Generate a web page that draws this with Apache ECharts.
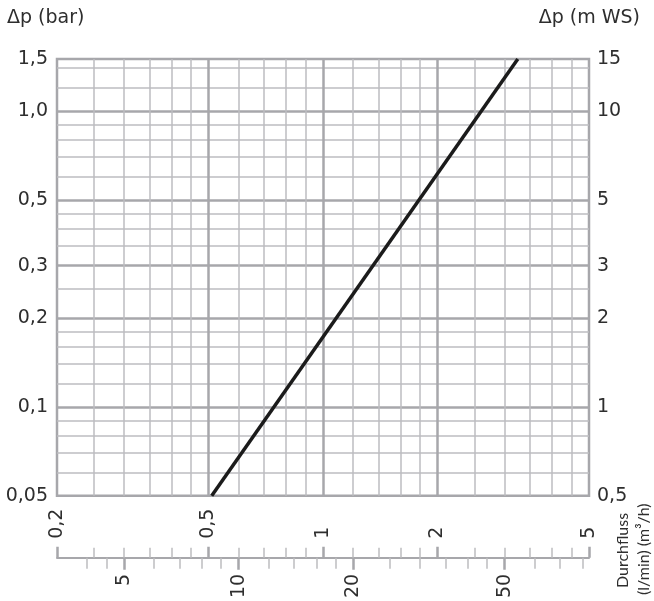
<!DOCTYPE html>
<html>
<head>
<meta charset="utf-8">
<script src="https://cdn.jsdelivr.net/npm/echarts@6/dist/echarts.min.js"></script>
<style>
html, body { margin: 0; padding: 0; background: #fff; }
#chart { width: 654px; height: 601px; }
</style>
</head>
<body>
<div id="chart"></div>
<script>
// curve (m3/h, bar)
var flowM3h = [0.51, 3.25];
var dpBar = [0.05, 1.5];

// left axis (bar) and right axis (m WS)
var barTicks = [0.05, 0.1, 0.2, 0.3, 0.5, 1, 1.5];
var barMinor = [0.06, 0.07, 0.08, 0.09, 0.12, 0.14, 0.16, 0.18, 0.25, 0.35, 0.4, 0.45, 0.6, 0.7, 0.8, 0.9, 1.2, 1.4];
var mwsTicks = [0.5, 1, 2, 3, 5, 10, 15];

// flow axes
var m3hTicks = [0.2, 0.5, 1, 2, 5];
var m3hMinor = [0.25, 0.3, 0.35, 0.4, 0.45, 0.6, 0.7, 0.8, 0.9, 1.2, 1.4, 1.6, 1.8, 2.5, 3, 3.5, 4, 4.5];
var lminTicks = [5, 10, 20, 50];
var lminMinor = [4, 4.5, 6, 7, 8, 9, 12, 14, 16, 18, 25, 30, 35, 40, 45, 60, 70, 80];

var LMIN_PER_M3H = 1000 / 60;
var textColor = '#2e2e2e';
var gridMajor = '#a7a7ab';
var gridMinor = '#bdbdc0';
var font = 'DejaVu Sans';
var fs = 19;

// decimal comma, bar labels keep one decimal for 1,0
function barLabel(v) {
	var r = Math.round(v * 100) / 100;
	if (r === 1) return '1,0';
	return String(r).replace('.', ',');
}
function comma(v) {
	return String(Math.round(v * 100) / 100).replace('.', ',');
}

var chart = echarts.init(document.getElementById('chart'));

// base log axis for the flow, m3/h
function flowAxis(extra) {
	var a = {
		type: 'log', min: 0.2, max: 5, position: 'bottom',
		axisLine: { show: false },
		axisTick: { show: false },
		axisLabel: { show: false },
		splitLine: { show: false }
	};
	for (var k in extra) a[k] = extra[k];
	return a;
}

var option = {
	animation: false,
	textStyle: { fontFamily: font },
	grid: {
		left: 57, right: 65, top: 59, bottom: 100,
		show: true, borderColor: gridMajor, borderWidth: 2.5, backgroundColor: 'transparent'
	},
	xAxis: [
		// minor vertical grid
		flowAxis({
			axisTick: { show: false, customValues: m3hMinor },
			splitLine: { show: true, lineStyle: { color: gridMinor, width: 1.5 } }
		}),
		// major vertical grid + m3/h labels
		flowAxis({
			axisTick: { show: false, customValues: [0.5, 1, 2] },
			splitLine: { show: true, lineStyle: { color: gridMajor, width: 2.5 } },
			axisLabel: {
				show: true, customValues: m3hTicks, rotate: 90, align: 'left', verticalAlign: 'middle',
				margin: 43, fontSize: fs, color: textColor, fontFamily: font,
				formatter: comma
			}
		}),
		// ruler: upper minor ticks (m3/h)
		flowAxis({
			offset: 62,
			axisLine: { show: true, lineStyle: { color: gridMajor, width: 2 } },
			axisTick: { show: true, inside: true, length: 10, customValues: m3hMinor, lineStyle: { color: gridMinor, width: 1.5 } }
		}),
		// ruler: upper major ticks (m3/h)
		flowAxis({
			offset: 62,
			axisTick: { show: true, inside: true, length: 11, customValues: m3hTicks, lineStyle: { color: gridMajor, width: 2.5 } }
		}),
		// ruler: lower minor ticks (l/min)
		{
			type: 'log', min: 0.2 * LMIN_PER_M3H, max: 5 * LMIN_PER_M3H, position: 'bottom', offset: 62,
			axisLine: { show: false },
			axisTick: { show: true, length: 11, customValues: lminMinor, lineStyle: { color: gridMinor, width: 1.5 } },
			axisLabel: { show: false },
			splitLine: { show: false }
		},
		// ruler: lower major ticks + l/min labels
		{
			type: 'log', min: 0.2 * LMIN_PER_M3H, max: 5 * LMIN_PER_M3H, position: 'bottom', offset: 62,
			axisLine: { show: false },
			axisTick: { show: true, length: 12, customValues: lminTicks, lineStyle: { color: gridMajor, width: 2.5 } },
			axisLabel: {
				show: true, customValues: lminTicks, rotate: 90, verticalAlign: 'middle',
				margin: 16, fontSize: fs, color: textColor, fontFamily: font
			},
			splitLine: { show: false }
		}
	],
	yAxis: [
		// minor horizontal grid
		{
			type: 'log', min: 0.05, max: 1.5, position: 'left',
			axisLine: { show: false }, axisTick: { show: false, customValues: barMinor },
			axisLabel: { show: false },
			splitLine: { show: true, lineStyle: { color: gridMinor, width: 1.5 } }
		},
		// major horizontal grid + bar labels
		{
			type: 'log', min: 0.05, max: 1.5, position: 'left',
			name: 'Δp (bar)', nameLocation: 'end', nameGap: 31,
			nameTextStyle: { fontSize: fs, color: textColor, fontFamily: font, align: 'left', padding: [0, 0, 0, -50] },
			axisLine: { show: false },
			axisTick: { show: false, customValues: [0.1, 0.2, 0.3, 0.5, 1] },
			axisLabel: {
				show: true, customValues: barTicks, margin: 9, fontSize: fs, color: textColor, fontFamily: font,
				formatter: barLabel
			},
			splitLine: { show: true, lineStyle: { color: gridMajor, width: 2.5 } }
		},
		// right axis, m WS
		{
			type: 'log', min: 0.5, max: 15, position: 'right',
			name: 'Δp (m WS)', nameLocation: 'end', nameGap: 31,
			nameTextStyle: { fontSize: fs, color: textColor, fontFamily: font, align: 'right', padding: [0, -51, 0, 0] },
			axisLine: { show: false }, axisTick: { show: false, customValues: mwsTicks },
			axisLabel: {
				show: true, customValues: mwsTicks, margin: 8, fontSize: fs, color: textColor, fontFamily: font,
				formatter: comma
			},
			splitLine: { show: false }
		}
	],
	graphic: [
		{ type: 'text', x: 623, y: 588, rotation: Math.PI / 2,
			style: { text: 'Durchfluss', fill: textColor, font: '16px Lato', align: 'left', verticalAlign: 'middle' } },
		{ type: 'text', x: 644, y: 595, rotation: Math.PI / 2,
			style: { text: '(l/min) (m³/h)', fill: textColor, font: '16px Lato', align: 'left', verticalAlign: 'middle' } }
	],
	series: [{
		type: 'line',
		xAxisIndex: 0, yAxisIndex: 0,
		data: flowM3h.map(function (q, i) { return [q, dpBar[i]]; }),
		showSymbol: false,
		lineStyle: { color: '#1b1b1b', width: 3.5 },
		z: 10
	}]
};

chart.setOption(option);
</script>
</body>
</html>
